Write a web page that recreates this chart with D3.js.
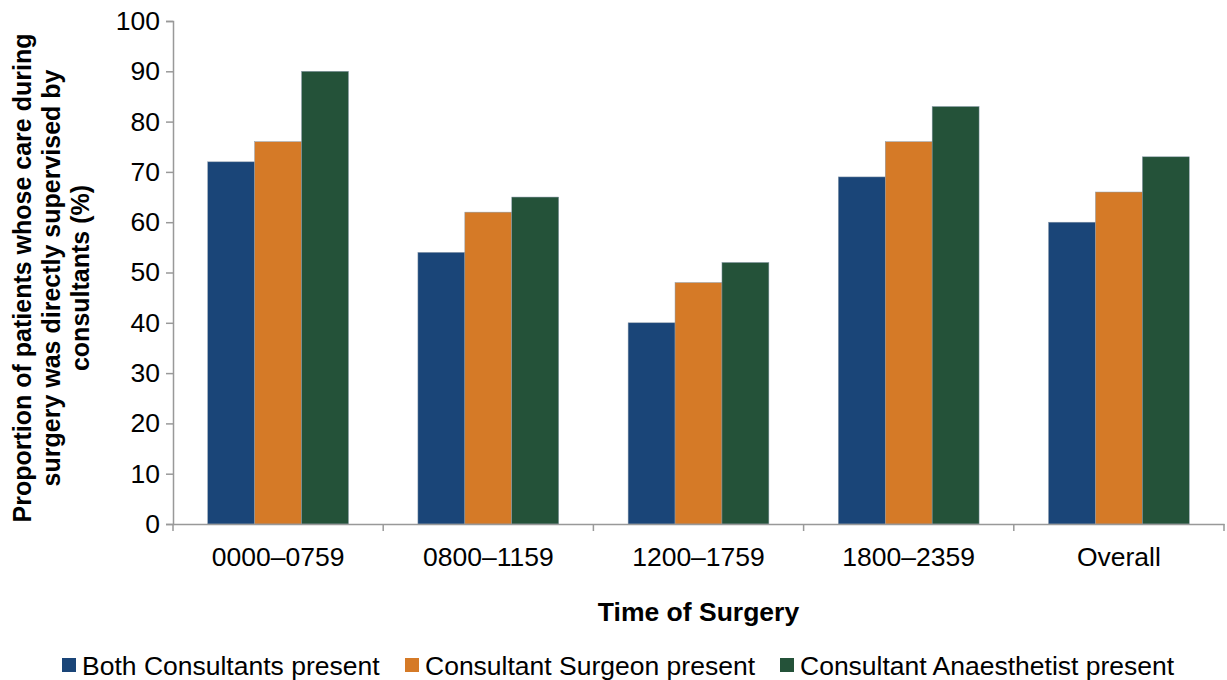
<!DOCTYPE html>
<html>
<head>
<meta charset="utf-8">
<script src="https://cdn.jsdelivr.net/npm/d3@7"></script>
<style>
  body { margin: 0; background: #fff; }
  text { font-family: "Liberation Sans", Arial, sans-serif; fill: #000; }
</style>
</head>
<body>
<div id="chart-area"></div>
<script>
var categories = ["0000\u20130759", "0800\u20131159", "1200\u20131759", "1800\u20132359", "Overall"];
var seriesNames = ["Both Consultants present", "Consultant Surgeon present", "Consultant Anaesthetist present"];
var bothValues = [72, 54, 40, 69, 60];
var surgeonValues = [76, 62, 48, 76, 66];
var anaesthetistValues = [90, 65, 52, 83, 73];
var yTicks = [0, 10, 20, 30, 40, 50, 60, 70, 80, 90, 100];
var colors = ["#1a4578", "#d57a27", "#245239"];

var seriesValues = [bothValues, surgeonValues, anaesthetistValues];
var data = categories.map(function(c, i) {
    return { cat: c, values: seriesValues.map(function(s) { return s[i]; }) };
});

var width = 1227, height = 680;
var plotLeft = 173, plotRight = 1224, plotTop = 21, plotBottom = 524;
var fontSize = "26.5px";

var svg = d3.select("#chart-area")
  .append("svg")
    .attr("width", width)
    .attr("height", height);

var x0 = d3.scaleBand()
    .domain(categories)
    .range([plotLeft, plotRight])
    .padding(0);

var x1 = d3.scaleBand()
    .domain([0, 1, 2])
    .range([0, x0.bandwidth()])
    .paddingInner(0)
    .paddingOuter(0.74);

var y = d3.scaleLinear()
    .domain([0, 100])
    .range([plotBottom, plotTop]);

// bars
var groups = svg.selectAll("g.group")
    .data(data)
  .enter().append("g")
    .attr("class", "group")
    .attr("transform", function(d) { return "translate(" + x0(d.cat) + ",0)"; });

groups.selectAll("rect")
    .data(function(d) { return d.values; })
  .enter().append("rect")
    .attr("x", function(d, i) { return x1(i); })
    .attr("y", function(d) { return y(d); })
    .attr("width", x1.bandwidth())
    .attr("height", function(d) { return y(0) - y(d); })
    .attr("fill", function(d, i) { return colors[i]; })
    .attr("stroke", "#8a9aaa")
    .attr("stroke-width", 0.5);

// y axis
var yAxis = svg.append("g")
    .attr("transform", "translate(" + plotLeft + ",0)")
    .call(d3.axisLeft(y).tickValues(yTicks).tickSize(7).tickPadding(6));
yAxis.selectAll("text")
    .attr("font-size", fontSize)
    .style("font-family", "Liberation Sans, Arial, sans-serif");

// x axis
var xAxis = svg.append("g")
    .attr("transform", "translate(0," + plotBottom + ")")
    .call(d3.axisBottom(x0).tickSize(0).tickPadding(23));
xAxis.selectAll("text")
    .attr("font-size", fontSize)
    .style("font-family", "Liberation Sans, Arial, sans-serif");

// x tick marks at band boundaries
var bounds = categories.map(function(c) { return x0(c); }).concat([plotRight]);
xAxis.selectAll("line.bound")
    .data(bounds)
  .enter().append("line")
    .attr("class", "bound")
    .attr("x1", function(d) { return d; })
    .attr("x2", function(d) { return d; })
    .attr("y1", 0)
    .attr("y2", 7);

svg.selectAll(".domain, .tick line, line.bound")
    .attr("stroke", "#999")
    .attr("stroke-width", 1.5);

// axis titles
svg.append("text")
    .attr("x", (plotLeft + plotRight) / 2)
    .attr("y", 621)
    .attr("text-anchor", "middle")
    .attr("font-size", fontSize)
    .attr("font-weight", "bold")
    .text("Time of Surgery");

var yTitle = svg.append("text")
    .attr("transform", "translate(31,278) rotate(-90)")
    .attr("text-anchor", "middle")
    .attr("font-size", "25px")
    .attr("font-weight", "bold");
var yLines = ["Proportion of patients whose care during", "surgery was directly supervised by", "consultants (%)"];
yTitle.selectAll("tspan")
    .data(yLines)
  .enter().append("tspan")
    .attr("x", 0)
    .attr("dy", function(d, i) { return i === 0 ? 0 : 29; })
    .text(function(d) { return d; });

// legend
var legendX = [62, 405, 780];
var legend = svg.selectAll("g.legend")
    .data(seriesNames)
  .enter().append("g")
    .attr("class", "legend")
    .attr("transform", function(d, i) { return "translate(" + legendX[i] + ",658)"; });
legend.append("rect")
    .attr("width", 14)
    .attr("height", 14)
    .attr("fill", function(d, i) { return colors[i]; });
legend.append("text")
    .attr("x", 20)
    .attr("y", 16.5)
    .attr("font-size", fontSize)
    .text(function(d) { return d; });
</script>
</body>
</html>
